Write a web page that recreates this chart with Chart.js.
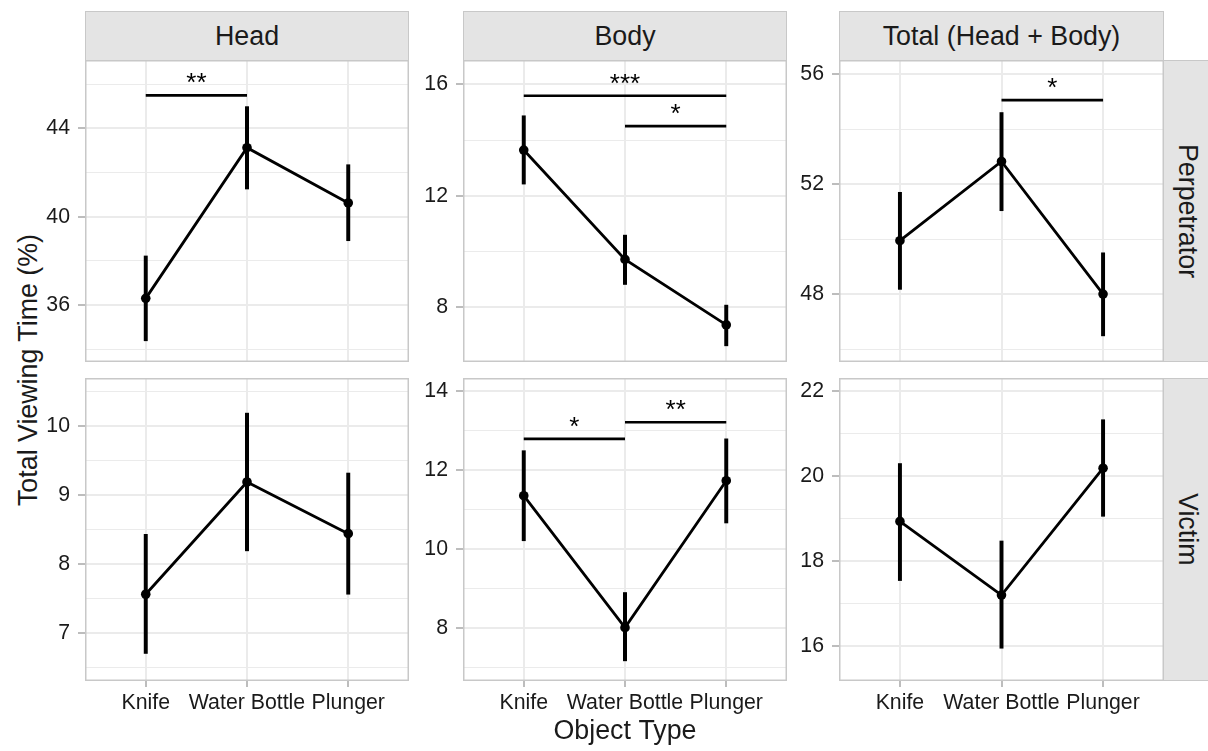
<!DOCTYPE html>
<html>
<head>
<meta charset="utf-8">
<title>Total Viewing Time by Object Type</title>
<script src="https://cdn.jsdelivr.net/npm/chart.js@4.4.1/dist/chart.umd.min.js"></script>
<style>
  html, body { margin: 0; padding: 0; background: #ffffff; }
  body { position: relative; width: 1208px; height: 751px; overflow: hidden;
         font-family: "Liberation Sans", Arial, Helvetica, sans-serif; color: #1a1a1a; }
  canvas { position: absolute; }
  .strip { position: absolute; box-sizing: border-box; background: #e4e4e4;
           border: 1.5px solid #c8c8c8; display: flex; align-items: center;
           justify-content: center; font-size: 26.8px; color: #1a1a1a; white-space: nowrap; }
  .strip.side span { writing-mode: vertical-rl; }
  #ytitle { position: absolute; left: 28px; top: 370px; white-space: nowrap; font-size: 26.8px;
            line-height: 30px; transform: translate(-50%, -50%) rotate(-90deg); color: #1a1a1a; }
</style>
</head>
<body>
<div id="ytitle">Total Viewing Time (%)</div>
<script>
// ---- data -------------------------------------------------------------
const categories = ['Knife', 'Water Bottle', 'Plunger'];
const measures = ['Head', 'Body', 'Total (Head + Body)'];
const roles = ['Perpetrator', 'Victim'];

// Perpetrator row: mean and error-bar limits
const headPerpMean  = [36.30, 43.12, 40.62];
const headPerpLow   = [34.38, 41.25, 38.91];
const headPerpHigh  = [38.22, 44.98, 42.35];
const bodyPerpMean  = [13.64, 9.72, 7.37];
const bodyPerpLow   = [12.42, 8.82, 6.62];
const bodyPerpHigh  = [14.87, 10.59, 8.08];
const totalPerpMean = [49.94, 52.82, 48.00];
const totalPerpLow  = [48.17, 51.03, 46.48];
const totalPerpHigh = [51.70, 54.60, 49.50];

// Victim row
const headVicMean  = [7.56, 9.19, 8.44];
const headVicLow   = [6.70, 8.19, 7.56];
const headVicHigh  = [8.43, 10.19, 9.32];
const bodyVicMean  = [11.34, 8.00, 11.72];
const bodyVicLow   = [10.20, 7.16, 10.65];
const bodyVicHigh  = [12.48, 8.89, 12.78];
const totalVicMean = [18.93, 17.20, 20.18];
const totalVicLow  = [17.54, 15.95, 19.05];
const totalVicHigh = [20.29, 18.47, 21.32];

// y tick labels (major) and minor grid values per panel
const headPerpTicks  = [36, 40, 44];     const headPerpMinor  = [34, 38, 42, 46];
const bodyPerpTicks  = [8, 12, 16];      const bodyPerpMinor  = [10, 14];
const totalPerpTicks = [48, 52, 56];     const totalPerpMinor = [46, 50, 54];
const headVicTicks   = [7, 8, 9, 10];    const headVicMinor   = [6.5, 7.5, 8.5, 9.5, 10.5];
const bodyVicTicks   = [8, 10, 12, 14];  const bodyVicMinor   = [7, 9, 11, 13];
const totalVicTicks  = [16, 18, 20, 22]; const totalVicMinor  = [17, 19, 21];

// significance brackets: [from category, to category, y value, label]
const headPerpBrackets  = [[1, 2, 45.49, '**']];
const bodyPerpBrackets  = [[1, 3, 15.59, '***'], [2, 3, 14.50, '*']];
const totalPerpBrackets = [[2, 3, 55.05, '*']];
const headVicBrackets   = [];
const bodyVicBrackets   = [[1, 2, 12.78, '*'], [2, 3, 13.20, '**']];
const totalVicBrackets  = [];

// ---- panel grid ---------------------------------------------------------
const panels = [
  { row: 0, col: 0, mean: headPerpMean,  low: headPerpLow,  high: headPerpHigh,  ticks: headPerpTicks,  minor: headPerpMinor,  min: 33.42, max: 47.09, brackets: headPerpBrackets },
  { row: 0, col: 1, mean: bodyPerpMean,  low: bodyPerpLow,  high: bodyPerpHigh,  ticks: bodyPerpTicks,  minor: bodyPerpMinor,  min: 6.04,  max: 16.87, brackets: bodyPerpBrackets },
  { row: 0, col: 2, mean: totalPerpMean, low: totalPerpLow, high: totalPerpHigh, ticks: totalPerpTicks, minor: totalPerpMinor, min: 45.53, max: 56.51, brackets: totalPerpBrackets },
  { row: 1, col: 0, mean: headVicMean,   low: headVicLow,   high: headVicHigh,   ticks: headVicTicks,   minor: headVicMinor,   min: 6.30,  max: 10.70, brackets: headVicBrackets },
  { row: 1, col: 1, mean: bodyVicMean,   low: bodyVicLow,   high: bodyVicHigh,   ticks: bodyVicTicks,   minor: bodyVicMinor,   min: 6.65,  max: 14.32, brackets: bodyVicBrackets },
  { row: 1, col: 2, mean: totalVicMean,  low: totalVicLow,  high: totalVicHigh,  ticks: totalVicTicks,  minor: totalVicMinor,  min: 15.18, max: 22.30, brackets: totalVicBrackets }
];

const colLeft = [85, 463, 839];
const colWidth = [324, 324, 325];
const rowTop = [60, 378];
const rowHeight = [302, 303];
const AXIS_W = 80, PAD = 30, RIGHT_PAD = 30, BOTTOM_H = 70;
const FONT = '"Liberation Sans", Arial, Helvetica, sans-serif';
const TEXT = '#1a1a1a', GRID = '#ebebeb', FRAME = '#c8c8c8', TICK = '#bdbdbd';
const TICK_SIZE = 21.3, TITLE_SIZE = 26.8;

// strips: column headers across the top, row labels down the right side
measures.forEach((m, c) => {
  const d = document.createElement('div');
  d.className = 'strip';
  Object.assign(d.style, { left: colLeft[c] + 'px', top: '11px', width: colWidth[c] + 'px', height: '50px' });
  d.innerHTML = '<span></span>';
  d.firstChild.textContent = m;
  document.body.appendChild(d);
});
roles.forEach((r, i) => {
  const d = document.createElement('div');
  d.className = 'strip side';
  Object.assign(d.style, { left: (colLeft[2] + colWidth[2] - 1) + 'px', top: rowTop[i] + 'px', width: '48px', height: rowHeight[i] + 'px' });
  d.innerHTML = '<span></span>';
  d.firstChild.textContent = r;
  document.body.appendChild(d);
});

// frame around each panel plus the star labels above the brackets
function panelDecor(brackets) {
  return {
    id: 'panelDecor',
    afterDatasetsDraw(chart) {
      const { ctx, chartArea: a, scales: { x, y } } = chart;
      ctx.save();
      ctx.fillStyle = '#000';
      ctx.font = '26px ' + FONT;
      ctx.textAlign = 'center';
      ctx.textBaseline = 'alphabetic';
      brackets.forEach(([from, to, yv, label]) => {
        const cx = (x.getPixelForValue(from) + x.getPixelForValue(to)) / 2;
        ctx.fillText(label, cx, y.getPixelForValue(yv) - 4);
      });
      ctx.strokeStyle = FRAME;
      ctx.lineWidth = 1.5;
      ctx.strokeRect(a.left + 0.75, a.top + 0.75, a.width - 1.5, a.height - 1.5);
      ctx.restore();
    }
  };
}

panels.forEach(p => {
  const bottom = p.row === 1;
  const canvas = document.createElement('canvas');
  const w = AXIS_W + colWidth[p.col] + RIGHT_PAD;
  const h = PAD + rowHeight[p.row] + (bottom ? BOTTOM_H + 10 : PAD);
  canvas.width = w; canvas.height = h;
  canvas.style.left = (colLeft[p.col] - AXIS_W) + 'px';
  canvas.style.top = (rowTop[p.row] - PAD) + 'px';
  canvas.style.width = w + 'px'; canvas.style.height = h + 'px';
  document.body.appendChild(canvas);

  const isMajor = v => p.ticks.includes(v);
  const gridValues = p.ticks.concat(p.minor).filter(v => v >= p.min && v <= p.max).sort((a, b) => a - b);

  const datasets = [
    {
      type: 'line',
      data: p.mean.map((v, i) => ({ x: i + 1, y: v })),
      borderColor: '#000', borderWidth: 2.8, tension: 0,
      pointRadius: 4.8, pointBackgroundColor: '#000', pointBorderWidth: 0,
      order: 1
    },
    {
      type: 'bar',
      data: p.low.map((v, i) => ({ x: i + 1, y: [v, p.high[i]] })),
      backgroundColor: '#000', borderWidth: 0, barThickness: 3.3,
      order: 2
    }
  ];
  p.brackets.forEach(([from, to, yv]) => {
    datasets.push({
      type: 'line',
      data: [{ x: from, y: yv }, { x: to, y: yv }],
      borderColor: '#000', borderWidth: 2.6, pointRadius: 0,
      order: 3
    });
  });

  new Chart(canvas, {
    type: 'line',
    data: { datasets },
    options: {
      responsive: false,
      animation: false,
      devicePixelRatio: 1,
      events: [],
      layout: { padding: { left: 0, top: PAD, right: RIGHT_PAD, bottom: bottom ? 10 : PAD } },
      plugins: { legend: { display: false }, tooltip: { enabled: false } },
      scales: {
        x: {
          type: 'linear', min: 0.4, max: 3.6, offset: false,
          afterBuildTicks: s => { s.ticks = categories.map((c, i) => ({ value: i + 1 })); },
          afterFit: s => { s.height = bottom ? BOTTOM_H : 0; },
          ticks: {
            display: bottom, autoSkip: false, maxRotation: 0, minRotation: 0, padding: 3,
            color: TEXT, font: { family: FONT, size: TICK_SIZE },
            callback: v => categories[Math.round(v) - 1]
          },
          grid: { offset: false, color: GRID, lineWidth: 2, drawTicks: bottom, tickLength: 6, tickColor: TICK, tickWidth: 2 },
          border: { display: false },
          title: {
            display: bottom && p.col === 1, text: 'Object Type', color: TEXT,
            font: { family: FONT, size: TITLE_SIZE }, padding: { top: 0, bottom: 3 }
          }
        },
        y: {
          type: 'linear', min: p.min, max: p.max,
          afterBuildTicks: s => { s.ticks = gridValues.map(v => ({ value: v })); },
          afterFit: s => { s.width = AXIS_W; },
          ticks: {
            autoSkip: false, padding: 8, color: TEXT, font: { family: FONT, size: TICK_SIZE },
            callback: v => isMajor(v) ? String(v) : ''
          },
          grid: {
            color: GRID,
            lineWidth: c => (c.tick && isMajor(c.tick.value)) ? 2 : 1,
            tickLength: 7,
            tickWidth: 2,
            tickColor: c => (c.tick && isMajor(c.tick.value)) ? TICK : 'rgba(0,0,0,0)'
          },
          border: { display: false }
        }
      }
    },
    plugins: [panelDecor(p.brackets)]
  });
});
</script>
</body>
</html>
